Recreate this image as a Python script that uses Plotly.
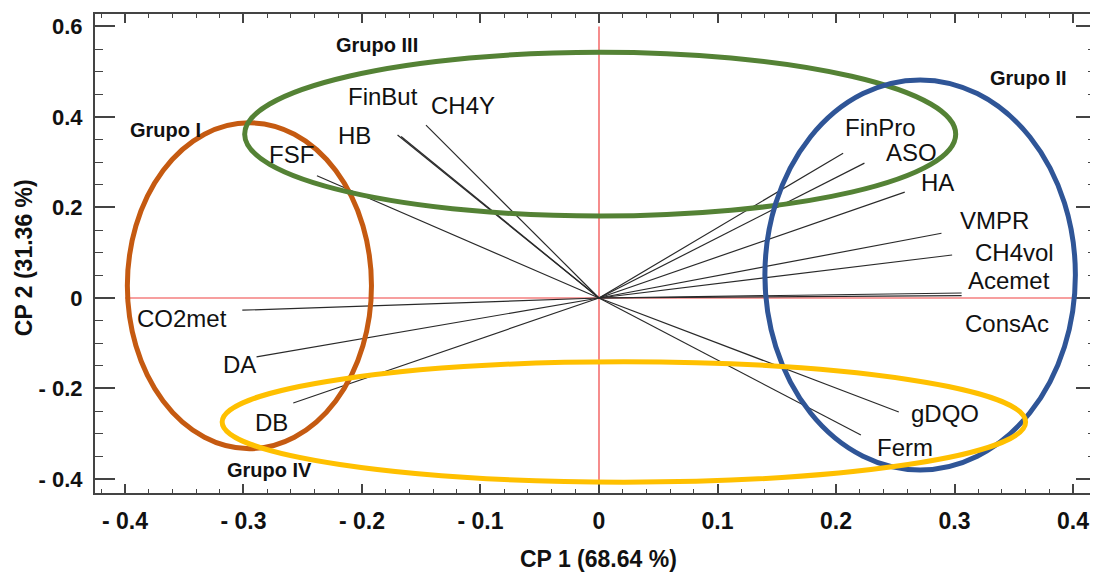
import plotly.graph_objects as go

# ---- data: PCA loadings (CP1, CP2) ----
variables = ["FinBut", "HB", "CH4Y", "FSF", "CO2met", "DA", "DB",
             "FinPro", "ASO", "HA", "VMPR", "CH4vol", "Acemet", "ConsAc",
             "gDQO", "Ferm"]
cp1 = [-0.170, -0.167, -0.146, -0.238, -0.301, -0.289, -0.258,
       0.206, 0.224, 0.258, 0.289, 0.298, 0.306, 0.306,
       0.253, 0.221]
cp2 = [0.360, 0.357, 0.382, 0.270, -0.027, -0.130, -0.232,
       0.320, 0.298, 0.234, 0.143, 0.095, 0.011, 0.005,
       -0.252, -0.303]

# ---- groups (ellipses): centre and semi-axes in CP units ----
groups = ["Grupo I", "Grupo III", "Grupo II", "Grupo IV"]
group_cx = [-0.295, 0.001, 0.271, 0.021]
group_cy = [0.027, 0.362, 0.051, -0.274]
group_rx = [0.103, 0.300, 0.131, 0.339]
group_ry = [0.360, 0.181, 0.431, 0.133]

x_ticks = [-0.4, -0.3, -0.2, -0.1, 0, 0.1, 0.2, 0.3, 0.4]
y_ticks = [-0.4, -0.2, 0, 0.2, 0.4, 0.6]

# ---- styles ----
group_colors = ["#C55A11", "#548235", "#2F5597", "#FFC000"]
group_label_pos = [(166, 130), (378, 45), (1030, 78), (270, 470)]  # screen pixels
label_shift = {  # pixel offsets of labels from loading tips
    "FinBut": (-15, 39), "HB": (-47, 1), "CH4Y": (37, 20), "FSF": (-25, 21),
    "CO2met": (-60, -8), "DA": (-17, -8), "DB": (-22, -20),
    "FinPro": (37, 26), "ASO": (47, 11), "HA": (33, 10), "VMPR": (53, 13),
    "CH4vol": (62, 2), "Acemet": (47, 13), "ConsAc": (45, -28),
    "gDQO": (46, -1), "Ferm": (44, -12),
}

OFF = 8  # page body margin
W, H = 1098 - OFF, 573 - OFF
ML, MR, MT, MB = 95 - OFF, 0, 14 - OFF, 80
PW, PH = W - ML - MR, H - MT - MB
x_range = [-0.4253, 0.4194]
y_range = [-0.431, 0.6276]
FONT = "Arial, Liberation Sans, sans-serif"


def px2paper(sx, sy):
    """screen pixel -> paper coords of the plot area"""
    fx, fy = sx - OFF, sy - OFF
    return (fx - ML) / PW, 1 - (fy - MT) / PH


def fmt(v):
    if abs(v) < 1e-9:
        return "0"
    return ("- %.1f" % abs(v)) if v < 0 else ("%.1f" % v)


fig = go.Figure()

# red reference lines
fig.add_shape(type="line", x0=-0.4, x1=0.4, y0=0, y1=0,
              line=dict(color="#F04040", width=1.2), layer="below")
fig.add_shape(type="line", x0=0, x1=0, y0=y_range[0], y1=0.6,
              line=dict(color="#F04040", width=1.2), layer="below")

# loading vectors
for name, a, b in zip(variables, cp1, cp2):
    fig.add_trace(go.Scatter(x=[0, a], y=[0, b], mode="lines",
                             line=dict(color="#2a2a2a", width=1.2),
                             hoverinfo="skip", showlegend=False))
    dx, dy = label_shift[name]
    fig.add_annotation(x=a, y=b, text=name, showarrow=False,
                       xshift=dx, yshift=dy,
                       font=dict(family=FONT, size=24, color="#111111"))

# ellipses
for g, cx, cy, rx, ry, col in zip(groups, group_cx, group_cy, group_rx, group_ry, group_colors):
    fig.add_shape(type="circle", x0=cx - rx, x1=cx + rx, y0=cy - ry, y1=cy + ry,
                  line=dict(color=col, width=5), layer="above")

for g, (sx, sy) in zip(groups, group_label_pos):
    px, py = px2paper(sx, sy)
    fig.add_annotation(x=px, y=py, xref="paper", yref="paper",
                       xanchor="center", yanchor="middle",
                       text="<b>%s</b>" % g, showarrow=False,
                       font=dict(family=FONT, size=20, color="#111111"))

# axis titles
tx, ty = px2paper(600, 559)
fig.add_annotation(x=tx, y=ty, xref="paper", yref="paper", xanchor="center", yanchor="middle",
                   text="<b>CP 1 (68.64 %)</b>", showarrow=False,
                   font=dict(family=FONT, size=23, color="#111111"))
tx, ty = px2paper(24, 258)
fig.add_annotation(x=tx, y=ty, xref="paper", yref="paper", xanchor="center", yanchor="middle",
                   text="<b>CP 2 (31.36 %)</b>", textangle=-90, showarrow=False,
                   font=dict(family=FONT, size=23, color="#111111"))

axis_common = dict(showgrid=False, zeroline=False, showline=True, linecolor="#444444",
                   linewidth=2, mirror="ticks", ticks="inside", tickcolor="#444444")

fig.update_xaxes(range=x_range, tickvals=x_ticks, ticktext=["<b>%s</b>" % fmt(v) for v in x_ticks],
                 ticklen=9, tickwidth=1.5,
                 minor=dict(dtick=0.02, tick0=0, ticks="inside", ticklen=4,
                            tickcolor="#444444", tickwidth=1.2, showgrid=False),
                 tickfont=dict(family=FONT, size=23, color="#111111"),
                 ticklabelstandoff=6,
                 **axis_common)
fig.update_yaxes(range=y_range, tickvals=y_ticks, ticktext=["<b>%s</b>" % fmt(v) for v in y_ticks],
                 ticklen=20, tickwidth=1.5,
                 minor=dict(dtick=0.05, tick0=0, ticks="inside", ticklen=8,
                            tickcolor="#444444", tickwidth=1.2, showgrid=False),
                 tickfont=dict(family=FONT, size=22, color="#111111"),
                 ticklabelstandoff=6,
                 **axis_common)

fig.update_layout(width=W, height=H, margin=dict(l=ML, r=MR, t=MT, b=MB),
                  plot_bgcolor="white", paper_bgcolor="white", showlegend=False)

fig.write_html("out.html")
